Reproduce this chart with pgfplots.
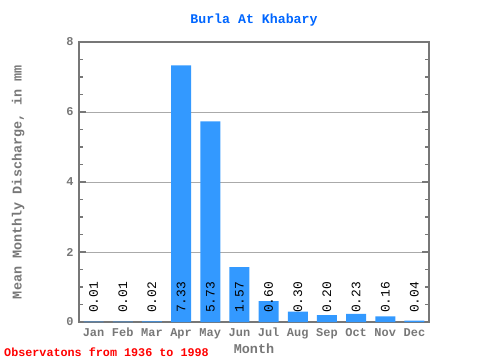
\documentclass[border=0pt]{standalone}
\usepackage{pgfplots}
\pgfplotsset{compat=1.18}
\usepackage{fontspec}
\setmainfont{Liberation Mono}
\setmonofont{Liberation Mono}
\definecolor{barblue}{HTML}{3399FF}
\definecolor{axgray}{HTML}{777777}
\definecolor{gridgray}{HTML}{AAAAAA}
\definecolor{titleblue}{HTML}{0066FF}
\begin{document}
\begin{tikzpicture}[x=1bp,y=1bp]
\path[use as bounding box] (0,0) rectangle (480,360);
\begin{axis}[
  at={(79bp,38bp)}, anchor=south west,
  scale only axis, width=350bp, height=280bp,
  xmin=-0.5, xmax=11.5, ymin=0, ymax=8,
  axis line style={draw=axgray, line width=1.6pt},
  xtick={0,...,11},
  xticklabels={Jan,Feb,Mar,Apr,May,Jun,Jul,Aug,Sep,Oct,Nov,Dec},
  major x tick style={draw=none},
  extra x ticks={0.5,1.5,...,10.5},
  extra x tick labels={},
  extra x tick style={major tick length=6bp, tick style={draw=axgray, line width=1.4pt}, grid=none},
  ytick={0,2,4,6,8},
  minor ytick={0.5,1,...,7.5},
  ymajorgrids, major grid style={draw=gridgray, line width=0.6pt},
  major tick length=7bp, minor tick length=4bp,
  tick style={draw=axgray, line width=1.2pt},
  tick pos=both, tick align=inside,
  ticklabel style={font=\fontsize{12}{12}\selectfont\bfseries, text=axgray},
  xticklabel style={text height=1.6ex, text depth=0.3ex, yshift=-3bp},
  yticklabel style={xshift=-2bp},
  /pgf/number format/assume math mode=true,
  xlabel={Month}, ylabel={Mean Monthly Discharge, in mm},
  label style={font=\fontsize{13.5}{14}\selectfont\bfseries, text=axgray},
  xlabel style={yshift=2bp},
  ylabel style={yshift=35bp},
  title={Burla At Khabary},
  title style={font=\fontsize{13.3}{14}\selectfont\bfseries, text=titleblue, yshift=6bp},
  clip=false,
]
\addplot[ybar, bar width=20bp, fill=barblue, draw=none, bar shift=0pt] coordinates {
(0,0.01) (1,0.01) (2,0.02) (3,7.33) (4,5.73) (5,1.57)
(6,0.60) (7,0.30) (8,0.20) (9,0.23) (10,0.16) (11,0.04)};
\addplot[draw=none, mark=none, nodes near coords, point meta=explicit symbolic,
  every node near coord/.append style={rotate=90, anchor=west, inner sep=0pt, xshift=9bp, yshift=0pt, font=\fontsize{13}{13}\selectfont, text=black}]
coordinates {
(0,0) [0.01] (1,0) [0.01] (2,0) [0.02] (3,0) [7.33] (4,0) [5.73] (5,0) [1.57]
(6,0) [0.60] (7,0) [0.30] (8,0) [0.20] (9,0) [0.23] (10,0) [0.16] (11,0) [0.04]};
\end{axis}
\node[anchor=west, text=red, font=\fontsize{11.8}{12}\selectfont\bfseries, inner sep=0pt] at (4,8) {Observatons from 1936 to 1998};
\end{tikzpicture}
\end{document}
